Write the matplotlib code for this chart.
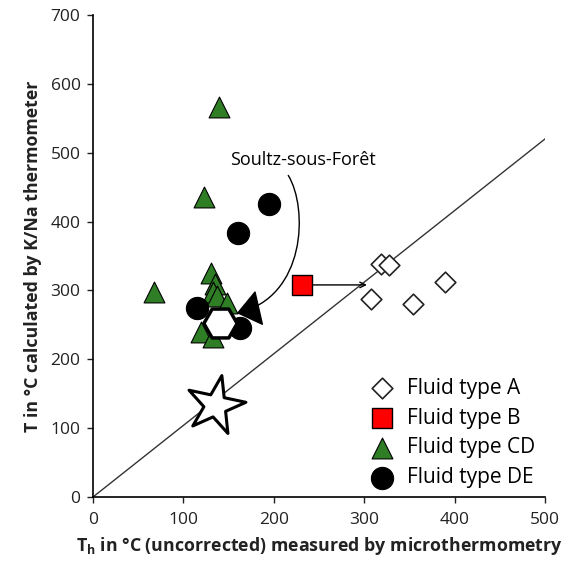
import matplotlib
matplotlib.use("Agg")
import matplotlib.pyplot as plt
from matplotlib.markers import MarkerStyle
from matplotlib.transforms import Affine2D
from matplotlib.patches import FancyArrowPatch
from matplotlib.path import Path

plt.rcParams['font.family'] = ['Open Sans', 'DejaVu Sans']
plt.rcParams['mathtext.fontset'] = 'custom'
plt.rcParams['mathtext.rm'] = 'Open Sans'
plt.rcParams['mathtext.bf'] = 'Open Sans:bold'

# homogenisation temperature (x) vs K/Na thermometer temperature (y)
type_a_x = [319, 327, 308, 354, 389]
type_a_y = [338, 337, 288, 281, 312]

type_b_x = [231]
type_b_y = [308]
type_b_shift_to = 303   # where the B fluid lands on the 1:1 line

type_cd_x = [139, 123, 67, 131, 135, 133, 137, 148, 119, 133]
type_cd_y = [566, 436, 298, 325, 310, 298, 292, 282, 240, 232]

type_de_x = [195, 160, 115, 163]
type_de_y = [425, 384, 274, 245]

soultz_x, soultz_y = 140, 253
star_x, star_y = 135, 133

line_x = [0, 500]
line_y = [0, 520]

green = '#2f7d24'

fig = plt.figure(figsize=(5.71, 5.64), dpi=100)
ax = fig.add_axes([93/571, 67/564, 452/571, 482/564])

ax.plot(line_x, line_y, color='#333333', lw=1.0, zorder=1)

ax.scatter(type_cd_x, type_cd_y, marker='^', s=15**2, c=green,
           edgecolors='black', linewidths=0.8, zorder=3, label='Fluid type CD')
ax.scatter(type_de_x, type_de_y, marker='o', s=16**2, c='black',
           edgecolors='black', linewidths=0.8, zorder=4, label='Fluid type DE')
ax.scatter(type_a_x, type_a_y, marker='D', s=10.5**2, c='white',
           edgecolors='#222222', linewidths=1.2, zorder=3, label='Fluid type A')
ax.scatter(type_b_x, type_b_y, marker='s', s=14**2, c='#ff0000',
           edgecolors='black', linewidths=1.0, zorder=3, label='Fluid type B')

ax.scatter([soultz_x], [soultz_y], marker='H', s=24**2, c='white',
           edgecolors='black', linewidths=2.5, zorder=5)
star = MarkerStyle('*', transform=Affine2D().rotate_deg(-12))
ax.scatter([star_x], [star_y], marker=star, s=44**2, c='white',
           edgecolors='black', linewidths=2.2, zorder=5)

# shift of fluid B onto the 1:1 line
ax.annotate('', xy=(type_b_shift_to, type_b_y[0]), xytext=(type_b_x[0], type_b_y[0]),
            arrowprops=dict(arrowstyle='->', color='black', lw=1.0,
                            shrinkA=7, shrinkB=0), zorder=2)

# label with a curved pointer down to the Soultz samples
ax.text(232, 476, 'Soultz-sous-Forêt', fontsize=13, ha='center', va='bottom')
curve = Path([(216, 467), (238, 420), (236, 290), (159, 267)],
             [Path.MOVETO, Path.CURVE4, Path.CURVE4, Path.CURVE4])
arc = FancyArrowPatch(path=curve,
                      arrowstyle='-|>,head_length=1.1,head_width=0.85',
                      mutation_scale=14, color='black', lw=1.0, zorder=6)
ax.add_patch(arc)

ax.set_xlim(0, 500)
ax.set_ylim(0, 700)
ax.set_xticks(range(0, 501, 100))
ax.set_yticks(range(0, 701, 100))
ax.tick_params(direction='out', length=4, width=1.0, labelsize=12.5, colors='#222222')
ax.tick_params(axis='x', pad=7)
ax.tick_params(axis='y', pad=5)
for side in ['top', 'right']:
    ax.spines[side].set_visible(False)
for side in ['left', 'bottom']:
    ax.spines[side].set_linewidth(1.2)

ax.set_xlabel(r'T$_\mathbf{h}$ in °C (uncorrected) measured by microthermometry',
              fontsize=12.8, fontweight='bold', color='#222222', labelpad=5)
ax.set_ylabel('T in °C calculated by K/Na thermometer',
              fontsize=12.8, fontweight='bold', color='#222222', labelpad=6)

handles, labels = ax.get_legend_handles_labels()
order = [labels.index(l) for l in ['Fluid type A', 'Fluid type B',
                                   'Fluid type CD', 'Fluid type DE']]
ax.legend([handles[i] for i in order], [labels[i] for i in order],
          loc='lower left', bbox_to_anchor=(0.562, -0.012), frameon=False,
          fontsize=15, handletextpad=0.2, labelspacing=0.42, borderaxespad=0.3)

fig.savefig('out.png', dpi=100)
